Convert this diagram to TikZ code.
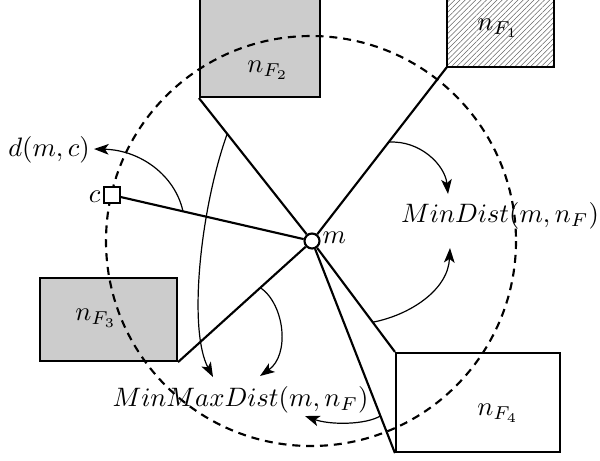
\documentclass[tikz,border=0pt]{standalone}
\usetikzlibrary{arrows.meta,calc,patterns.meta}
\newdimen\upx \upx=0.375pt
\begin{document}
\begin{tikzpicture}[x=0.375pt,y=-0.375pt,
  fbox/.style={draw,line width=0.8pt,rectangle,inner sep=0pt},
  edge/.style={line width=0.8pt},
  arr/.style={line width=0.45pt,-{Stealth[length=5.5pt,width=4pt,inset=1.4pt]}},
  lbl/.style={inner sep=0pt}]
\clip (0,0) rectangle (600,460);
% feature boxes
\node[fbox,fill=black!20,minimum width=120\upx,minimum height=137\upx] (F2) at (260,28.5) {};
\node[fbox,pattern={Lines[angle=45,distance=1.4pt,line width=0.2pt]},pattern color=black!60,minimum width=107\upx,minimum height=107\upx] (F1) at (500.5,13.5) {};
\node[fbox,fill=black!20,minimum width=137\upx,minimum height=83\upx] (F3) at (108.5,319.5) {};
\node[fbox,fill=white,minimum width=164\upx,minimum height=99\upx] (F4) at (478,402.5) {};
\node[lbl] (t2) at (268,70) {$n_{F_2}$};
\node[lbl] (t1) at (498,28) {$n_{F_1}$};
\node[lbl] (t3) at (96,318) {$n_{F_3}$};
\node[lbl] (t4) at (498,413) {$n_{F_4}$};
% search circle
\draw[line width=0.8pt,dash pattern=on 3pt off 2.2pt] (311,241) circle[radius=205];
% query point and candidate
\node[circle,draw,fill=white,line width=0.8pt,inner sep=0pt,minimum size=15\upx] (m) at (312,241) {};
\node[lbl,anchor=west] (tm) at (322,238) {$m$};
\node[rectangle,draw,fill=white,line width=0.5pt,inner sep=0pt,minimum size=16\upx] (c) at (112,195) {};
\node[lbl,anchor=east] (tc) at (101,197) {$c$};
\draw[edge] (m) -- (c);
\draw[edge] (m) -- (F2.south west);
\draw[edge] (m) -- (F1.south west);
\draw[edge] (m) -- (F3.south east);
\draw[edge] (m) -- (F4.north west);
\draw[edge] (m) -- (F4.south west);
% labels
\node[lbl] (dmc) at (49,150) {$d(m,c)$};
\node[lbl] (mind) at (500,216) {$MinDist(m,n_F)$};
\node[lbl] (mmd) at (240.5,400) {$MinMaxDist(m,n_F)$};
% anchor points on the lines
\coordinate (sd) at ($(m)!0.645!(c)$);
\coordinate (s1) at ($(m)!0.569!(F1.south west)$);
\coordinate (s2) at ($(m)!0.732!(F4.north west)$);
\coordinate (s3) at ($(m)!0.75!(F2.south west)$);
\coordinate (s4) at ($(m)!0.385!(F3.south east)$);
\coordinate (s5) at ($(m)!0.825!(F4.south west)$);
\coordinate (ed) at (94,149);
\coordinate (e1) at (448,194);
\coordinate (e2) at (450,248);
\coordinate (e3) at (213,377);
\coordinate (e4) at (260,376);
\coordinate (e5) at (305,416);
% arrows
\draw[arr] (sd) .. controls (175,175) and (140,150) .. (ed);
\draw[arr] (s1) .. controls (420,140) and (445,165) .. (e1);
\draw[arr] (s2) .. controls (410,315) and (448,290) .. (e2);
\draw[arr] (s3) .. controls (200,210) and (188,330) .. (e3);
\draw[arr] (s4) .. controls (285,305) and (290,355) .. (e4);
\draw[arr] (s5) .. controls (365,425) and (330,425) .. (e5);
\end{tikzpicture}
\end{document}
